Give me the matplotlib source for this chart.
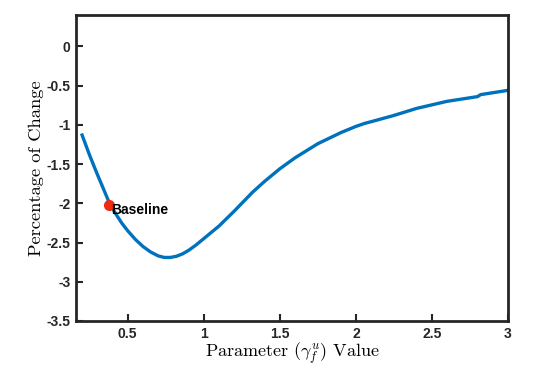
import numpy as np
import matplotlib.pyplot as plt

# values
gamma = [0.2, 0.25, 0.3, 0.35, 0.38, 0.42, 0.46, 0.5, 0.55, 0.6, 0.65, 0.7, 0.74, 0.78, 0.82, 0.86, 0.9, 0.95, 1.0,
         1.1, 1.2, 1.3, 1.32, 1.4, 1.5, 1.6, 1.75, 1.9, 2.0, 2.06, 2.1, 2.25, 2.4, 2.5, 2.6, 2.8, 2.82, 3.0]
change = [-1.13, -1.39, -1.63, -1.86, -2.0, -2.13, -2.25, -2.35, -2.46, -2.55, -2.62, -2.67, -2.69, -2.69, -2.675, -2.645, -2.6, -2.53, -2.45,
          -2.29, -2.1, -1.9, -1.86, -1.72, -1.56, -1.42, -1.24, -1.10, -1.02, -0.98, -0.96, -0.88, -0.79, -0.745, -0.70, -0.64, -0.615, -0.56]
base_x, base_y = 0.38, -2.02

plt.rcParams['mathtext.fontset'] = 'cm'
tickfont = {'family': 'Liberation Sans', 'weight': 'bold', 'size': 10}

fig = plt.figure(figsize=(5.33, 3.71), dpi=100)
ax = fig.add_axes([76/533, 1-321/371, 432/533, 306/371])

ax.plot(gamma, change, color='#0072BD', linewidth=2.4)
ax.plot(base_x, base_y, 'o', color='#ee2a10', markersize=7, zorder=3)
ax.text(base_x + 0.01, base_y - 0.06, 'Baseline', ha='left', va='center', color='black', **tickfont)

ax.set_xlim(0.16, 3.0)
ax.set_ylim(-3.5, 0.4)
ax.set_xticks([0.5, 1, 1.5, 2, 2.5, 3])
ax.set_xticklabels(['0.5', '1', '1.5', '2', '2.5', '3'])
ax.set_yticks([0, -0.5, -1, -1.5, -2, -2.5, -3, -3.5])
ax.set_yticklabels(['0', '-0.5', '-1', '-1.5', '-2', '-2.5', '-3', '-3.5'])
for lab in ax.get_xticklabels() + ax.get_yticklabels():
    lab.set_fontfamily('Liberation Sans')
    lab.set_fontweight('bold')
    lab.set_fontsize(10)
    lab.set_color('#262626')
ax.tick_params(direction='in', length=5, width=1.5, color='#262626', pad=4)
for s in ax.spines.values():
    s.set_linewidth(2)
    s.set_color('#262626')

ax.set_xlabel(r'Parameter $(\gamma_f^u)$ Value', family='cmr10', fontsize=13, labelpad=0)
ax.set_ylabel('Percentage of Change', family='cmr10', fontsize=13.3, labelpad=2)

fig.savefig('out.png', dpi=100)
